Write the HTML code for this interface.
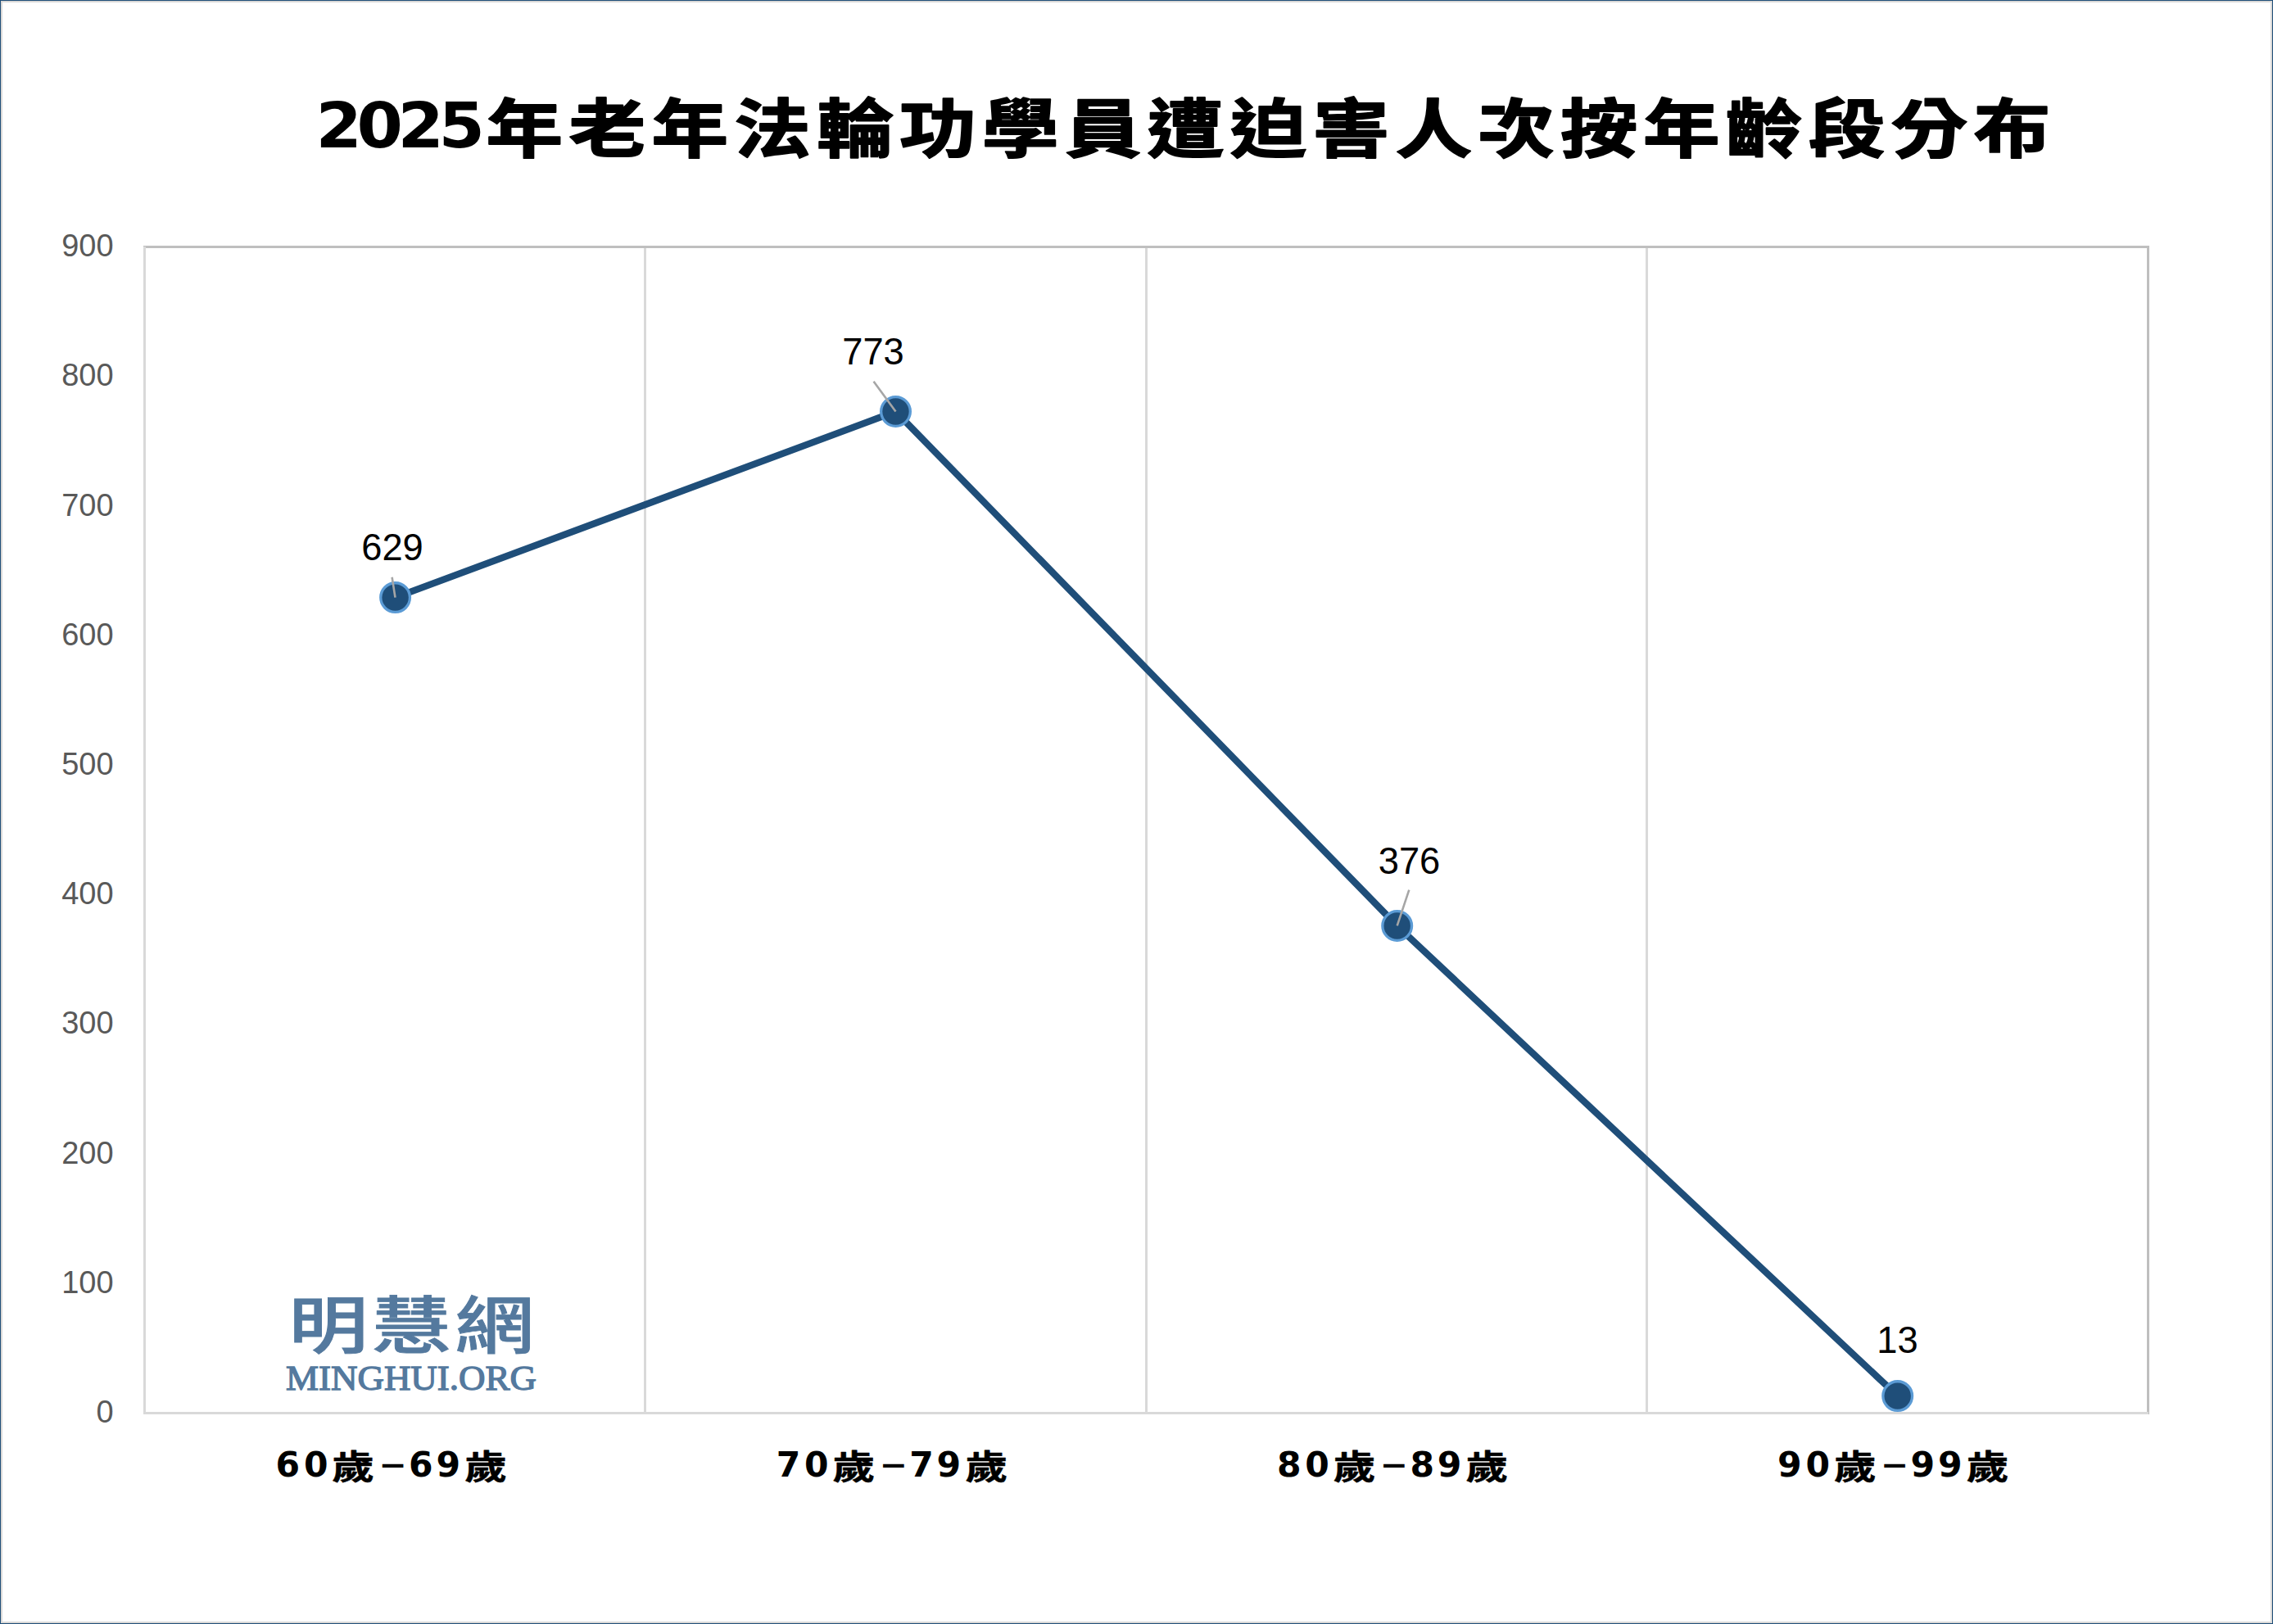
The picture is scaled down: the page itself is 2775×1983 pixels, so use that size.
<!DOCTYPE html>
<html lang="zh-Hant"><head><meta charset="utf-8">
<title>2025年老年法輪功學員遭迫害人次按年齡段分布</title>
<style>
html,body{margin:0;padding:0;background:#fff;}
body{width:2775px;height:1983px;overflow:hidden;}
svg{display:block;}
.cjk{font-family:"Liberation Sans","Noto Sans CJK TC","Noto Sans CJK SC","WenQuanYi Zen Hei",sans-serif;font-weight:700;fill:#000;stroke:#000;stroke-width:1.8;stroke-linejoin:round;}
.cjks{font-family:"Liberation Sans","Noto Sans CJK TC","Noto Sans CJK SC","WenQuanYi Zen Hei",sans-serif;font-weight:700;fill:#000;stroke:#000;stroke-width:0.5;stroke-linejoin:round;}
.dig{font-family:"DejaVu Sans","Liberation Sans",sans-serif;font-weight:bold;fill:#000;}
.dash{font-family:"Liberation Sans",sans-serif;font-weight:bold;fill:#000;}
.ax{font-family:"Liberation Sans",sans-serif;fill:#595959;font-size:38px;text-anchor:end;}
.dl{font-family:"Liberation Sans",sans-serif;fill:#000;font-size:45.3px;text-anchor:middle;}
.lead{stroke:#a6a6a6;stroke-width:2.6;fill:none;}
.mk{fill:#1f4e79;stroke:#5b9bd5;stroke-width:3.3;}
.logo-c{font-family:"Liberation Sans","Noto Sans CJK TC","Noto Sans CJK SC",sans-serif;font-weight:500;fill:#54799e;stroke:#54799e;stroke-width:0.8;}
.logo-e{font-family:"Liberation Serif",serif;fill:#54799e;stroke:#54799e;stroke-width:1.3;}
</style></head><body>
<svg width="2775" height="1983" viewBox="0 0 2775 1983">
<rect x="0" y="0" width="2775" height="1983" fill="#1f4e79"/>
<rect x="1" y="1" width="2773" height="1981" fill="#dad8d5"/>
<rect x="2" y="2" width="2771" height="1979" fill="#d9d9d9"/>
<rect x="3" y="3" width="2769" height="1977" fill="#ffffff"/>
<text y="186"><tspan class="dig" x="385.5" y="180.3" font-size="76.5" letter-spacing="-6.07" textLength="200.02" lengthAdjust="spacingAndGlyphs">2025</tspan><tspan class="cjk" x="593.6" y="186" font-size="78" letter-spacing="6.08" textLength="1917.02" lengthAdjust="spacingAndGlyphs">年老年法輪功學員遭迫害人次按年齡段分布</tspan></text>
<rect x="175" y="300" width="2449" height="3" fill="#bfbfbf"/>
<rect x="2621" y="300" width="3" height="1427" fill="#bfbfbf"/>
<rect x="786" y="303" width="3" height="1424" fill="#d9d9d9"/>
<rect x="1398" y="303" width="3" height="1424" fill="#d9d9d9"/>
<rect x="2009" y="303" width="3" height="1424" fill="#d9d9d9"/>
<rect x="175" y="301" width="3" height="1426" fill="#d9d9d9"/>
<rect x="175" y="1724" width="2448" height="3" fill="#d9d9d9"/>
<text class="ax" x="138.6" y="313.1">900</text>
<text class="ax" x="138.6" y="471.3">800</text>
<text class="ax" x="138.6" y="629.5">700</text>
<text class="ax" x="138.6" y="787.8">600</text>
<text class="ax" x="138.6" y="946.0">500</text>
<text class="ax" x="138.6" y="1104.2">400</text>
<text class="ax" x="138.6" y="1262.4">300</text>
<text class="ax" x="138.6" y="1420.7">200</text>
<text class="ax" x="138.6" y="1578.9">100</text>
<text class="ax" x="138.6" y="1737.1">0</text>
<g transform="translate(352.5,1645.5) scale(1.275,1)"><text class="logo-c" font-size="76" letter-spacing="3.5">明慧網</text></g>
<text class="logo-e" x="349" y="1697" font-size="43" textLength="306" lengthAdjust="spacingAndGlyphs">MINGHUI.ORG</text>
<polyline fill="none" stroke="#1f4e79" stroke-width="8.3" stroke-linejoin="round" stroke-linecap="round" points="482.6,729.6 1093.5,502.5 1705.7,1130.5 2316.7,1704.6"/>
<circle class="mk" cx="482.6" cy="729.6" r="17.85"/>
<circle class="mk" cx="1093.5" cy="502.5" r="17.85"/>
<circle class="mk" cx="1705.7" cy="1130.5" r="17.85"/>
<circle class="mk" cx="2316.7" cy="1704.6" r="17.85"/>
<line class="lead" x1="478.6" y1="704.8" x2="482.5" y2="729.6"/>
<line class="lead" x1="1066.6" y1="465.8" x2="1093.5" y2="502.4"/>
<line class="lead" x1="1720.3" y1="1086.6" x2="1705.7" y2="1130.3"/>
<text class="dl" x="479" y="684.3">629</text>
<text class="dl" x="1066" y="445.1">773</text>
<text class="dl" x="1720.5" y="1066.5">376</text>
<text class="dl" x="2316.5" y="1652.2">13</text>
<text y="1803.2"><tspan class="dig" x="336.5" y="1803.2" font-size="42.5" textLength="64" lengthAdjust="spacing">60</tspan><tspan class="cjks" x="405.3" y="1805.5" font-size="41" textLength="51.66" lengthAdjust="spacingAndGlyphs">歲</tspan><tspan class="dash" x="465.2" y="1801.2" font-size="42" textLength="28.72" lengthAdjust="spacingAndGlyphs">–</tspan><tspan class="dig" x="499.0" y="1803.2" font-size="42.5" textLength="63" lengthAdjust="spacing">69</tspan><tspan class="cjks" x="567.2" y="1805.5" font-size="41" textLength="51.66" lengthAdjust="spacingAndGlyphs">歲</tspan></text>
<text y="1803.2"><tspan class="dig" x="947.7" y="1803.2" font-size="42.5" textLength="64" lengthAdjust="spacing">70</tspan><tspan class="cjks" x="1016.5" y="1805.5" font-size="41" textLength="51.66" lengthAdjust="spacingAndGlyphs">歲</tspan><tspan class="dash" x="1076.4" y="1801.2" font-size="42" textLength="28.72" lengthAdjust="spacingAndGlyphs">–</tspan><tspan class="dig" x="1110.2" y="1803.2" font-size="42.5" textLength="63" lengthAdjust="spacing">79</tspan><tspan class="cjks" x="1178.4" y="1805.5" font-size="41" textLength="51.66" lengthAdjust="spacingAndGlyphs">歲</tspan></text>
<text y="1803.2"><tspan class="dig" x="1558.9" y="1803.2" font-size="42.5" textLength="64" lengthAdjust="spacing">80</tspan><tspan class="cjks" x="1627.7" y="1805.5" font-size="41" textLength="51.66" lengthAdjust="spacingAndGlyphs">歲</tspan><tspan class="dash" x="1687.6" y="1801.2" font-size="42" textLength="28.72" lengthAdjust="spacingAndGlyphs">–</tspan><tspan class="dig" x="1721.4" y="1803.2" font-size="42.5" textLength="63" lengthAdjust="spacing">89</tspan><tspan class="cjks" x="1789.6" y="1805.5" font-size="41" textLength="51.66" lengthAdjust="spacingAndGlyphs">歲</tspan></text>
<text y="1803.2"><tspan class="dig" x="2170.1" y="1803.2" font-size="42.5" textLength="64" lengthAdjust="spacing">90</tspan><tspan class="cjks" x="2238.9" y="1805.5" font-size="41" textLength="51.66" lengthAdjust="spacingAndGlyphs">歲</tspan><tspan class="dash" x="2298.8" y="1801.2" font-size="42" textLength="28.72" lengthAdjust="spacingAndGlyphs">–</tspan><tspan class="dig" x="2332.6" y="1803.2" font-size="42.5" textLength="63" lengthAdjust="spacing">99</tspan><tspan class="cjks" x="2400.8" y="1805.5" font-size="41" textLength="51.66" lengthAdjust="spacingAndGlyphs">歲</tspan></text>
</svg>
</body></html>
